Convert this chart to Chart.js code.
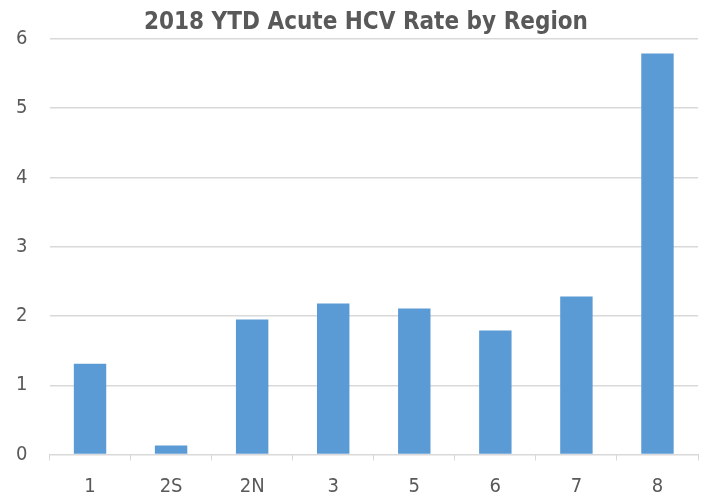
<!DOCTYPE html>
<html>
<head>
<meta charset="utf-8">
<script src="https://cdn.jsdelivr.net/npm/chart.js@4"></script>
<style>
  html, body { margin: 0; padding: 0; background: #fff; }
  #wrap { width: 707px; height: 498px; }
</style>
</head>
<body>
<div id="wrap"><canvas id="grafica" width="707" height="498"></canvas></div>
<script>
// datos
const regiones = ['1', '2S', '2N', '3', '5', '6', '7', '8'];
const tasas = [1.31, 0.13, 1.95, 2.18, 2.11, 1.79, 2.28, 5.79];
const tituloTexto = '2018 YTD Acute HCV Rate by Region';

const fuente = "'Liberation Sans Narrow', 'DejaVu Sans Condensed', 'Open Sans', sans-serif";
const gris = '#595959';

// titulo dibujado a mano (en el original no esta centrado en el lienzo)
const tituloPlugin = {
  id: 'tituloPlugin',
  afterDraw(chart) {
    const c = chart.ctx;
    c.save();
    c.font = "bold 24px " + fuente;
    c.fillStyle = gris;
    c.textAlign = 'center';
    c.textBaseline = 'alphabetic';
    c.fillText(tituloTexto, 366, 29);
    c.restore();
  }
};

const ctx = document.getElementById('grafica').getContext('2d');

const grafica = new Chart(ctx, {
  type: 'bar',
  data: {
    labels: regiones,
    datasets: [{
      label: 'Rate',
      data: tasas,
      backgroundColor: '#5B9BD5',
      barPercentage: 0.4,
      categoryPercentage: 1
    }]
  },
  options: {
    responsive: false,
    animation: false,
    layout: { padding: { left: 0, right: 9, top: 39, bottom: 0 } },
    plugins: {
      legend: { display: false },
      tooltip: { enabled: false },
      title: { display: false }
    },
    scales: {
      x: {
        grid: {
          display: true,
          drawOnChartArea: false,
          drawTicks: true,
          tickLength: 6,
          offset: true,
          color: '#d9d9d9'
        },
        border: { display: true, color: '#d9d9d9' },
        ticks: {
          color: gris,
          font: { family: fuente, size: 20 },
          padding: 14
        },
        afterFit: (escala) => { escala.height = 43.5; }
      },
      y: {
        min: 0,
        max: 6,
        ticks: {
          stepSize: 1,
          color: gris,
          font: { family: fuente, size: 20 },
          padding: 22
        },
        grid: { color: '#d9d9d9', drawTicks: false, lineWidth: 1.5 },
        border: { display: false },
        afterFit: (escala) => { escala.width = 49.5; }
      }
    }
  },
  plugins: [tituloPlugin]
});
</script>
</body>
</html>
